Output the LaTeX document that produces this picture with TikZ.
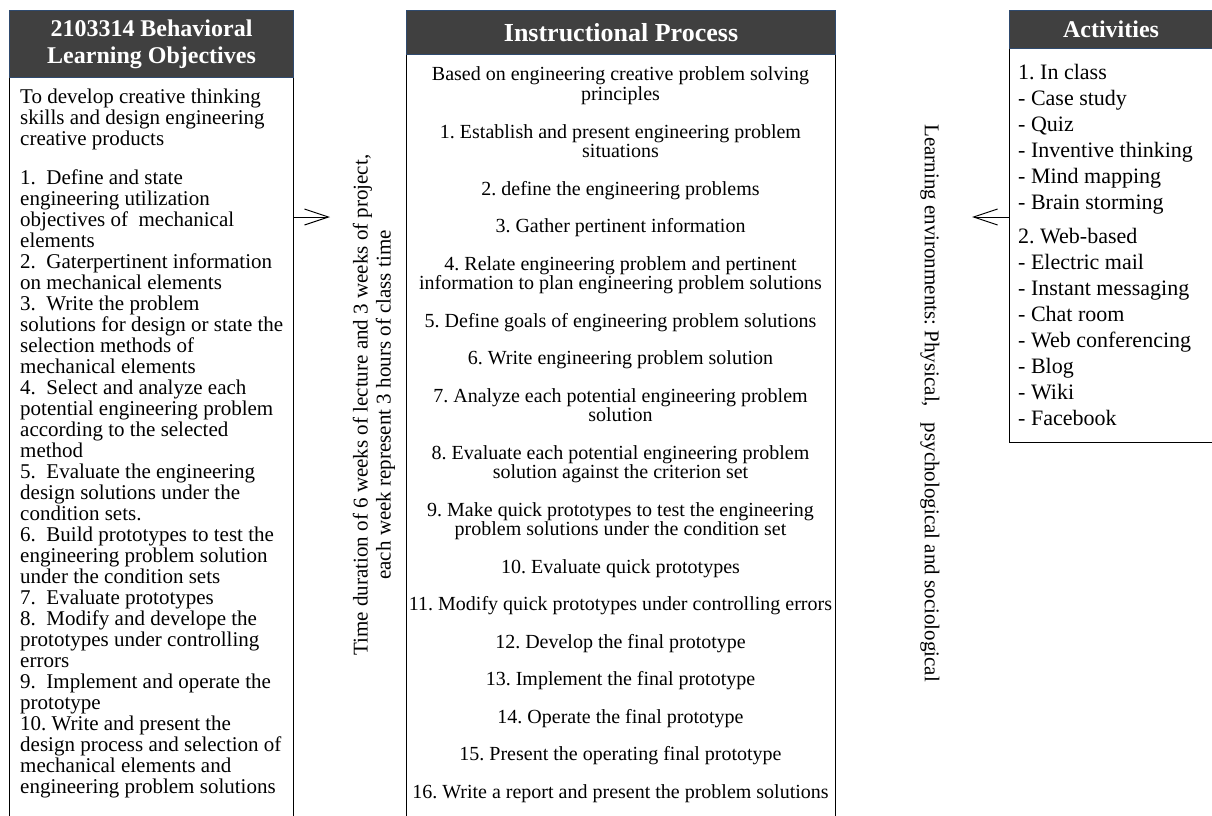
\documentclass[tikz,border=0pt]{standalone}
\usepackage{fontspec}
\setmainfont{Liberation Serif}
\usetikzlibrary{arrows.meta}
\definecolor{hdr}{HTML}{404040}
\definecolor{hdrline}{HTML}{2F4A6E}
\begin{document}
\frenchspacing
\begin{tikzpicture}[x=1pt,y=-1pt,
  hdrbox/.style={draw=hdrline, line width=1pt, fill=hdr, text=white, anchor=north west, inner sep=0pt, align=center},
  bodybox/.style={draw=black, line width=1.3pt, anchor=north west, inner sep=0pt},
  arr/.style={line width=1pt, -{Straight Barb[length=24pt,width=16pt,line width=1pt]}},
  ltxt/.style={anchor=base west, inner sep=0pt, font=\fontsize{21}{21}\selectfont},
  ctxt/.style={anchor=base, inner sep=0pt, font=\fontsize{20}{20}\selectfont},
  atxt/.style={anchor=base west, inner sep=0pt, font=\fontsize{22}{22}\selectfont},
  rtxt/.style={inner sep=0pt, align=center, font=\fontsize{21}{23}\selectfont},
]
\useasboundingbox (0,0) rectangle (1212,816);
\clip (0,0) rectangle (1212,816);
% boxes
\node[bodybox, minimum width=284pt, minimum height=760pt] (lbody) at (9,77) {};
\node[hdrbox, minimum width=284pt, minimum height=67pt, font=\fontsize{24}{27}\bfseries\selectfont] (lhead) at (9,10) {2103314 Behavioral\\Learning Objectives};
\node[bodybox, minimum width=429pt, minimum height=780pt] (cbody) at (406,54) {};
\node[hdrbox, minimum width=429pt, minimum height=44pt, font=\fontsize{26}{28}\bfseries\selectfont] (chead) at (406,10) {Instructional Process};
\node[bodybox, minimum width=220pt, minimum height=394pt] (abody) at (1009,48) {};
\node[hdrbox, minimum width=220pt, minimum height=38pt, font=\fontsize{24}{26}\bfseries\selectfont] (ahead) at (1009,10) {\hspace*{-17pt}Activities};
% left text
\foreach \yy/\txt [count=\i] in {
 103/{To develop creative thinking},
 124/{skills and design engineering},
 145/{creative products},
 184/{1.\ \ Define and state},
 205/{engineering utilization},
 226/{objectives of\ \ mechanical},
 247/{elements},
 268/{2.\ \ Gaterpertinent information},
 289/{on mechanical elements},
 310/{3.\ \ Write the problem},
 331/{solutions for design or state the},
 352/{selection methods of},
 373/{mechanical elements},
 394/{4.\ \ Select and analyze each},
 415/{potential engineering problem},
 436/{according to the selected},
 457/{method},
 478/{5.\ \ Evaluate the engineering},
 499/{design solutions under the},
 520/{condition sets.},
 541/{6.\ \ Build prototypes to test the},
 562/{engineering problem solution},
 583/{under the condition sets},
 604/{7.\ \ Evaluate prototypes},
 625/{8.\ \ Modify and develope the},
 646/{prototypes under controlling},
 667/{errors},
 688/{9.\ \ Implement and operate the},
 709/{prototype},
 730/{10. Write and present the},
 751/{design process and selection of},
 772/{mechanical elements and},
 793/{engineering problem solutions}}
 { \node[ltxt] (L\i) at (20,\yy) {\txt}; }
% centre text
\foreach \yy/\txt [count=\i] in {
 81/{Based on engineering creative problem solving},
 100.5/{principles},
 138/{1. Establish and present engineering problem},
 157.5/{situations},
 195/{2. define the engineering problems},
 232.5/{3. Gather pertinent information},
 270/{4. Relate engineering problem and pertinent},
 289.5/{information to plan engineering problem solutions},
 327/{5. Define goals of engineering problem solutions},
 364.5/{6. Write engineering problem solution},
 402/{7. Analyze each potential engineering problem},
 421.5/{solution},
 459/{8. Evaluate each potential engineering problem},
 478.5/{solution against the criterion set},
 516/{9. Make quick prototypes to test the engineering},
 535.5/{problem solutions under the condition set},
 573/{10. Evaluate quick prototypes},
 610.5/{11. Modify quick prototypes under controlling errors},
 648/{12. Develop the final prototype},
 685.5/{13. Implement the final prototype},
 723/{14. Operate the final prototype},
 760.5/{15. Present the operating final prototype},
 798/{16. Write a report and present the problem solutions}}
 { \node[ctxt] (C\i) at (620.5,\yy) {\txt}; }
% activities text
\foreach \yy/\txt [count=\i] in {
 79/{1. In class},
 105/{- Case study},
 131/{- Quiz},
 157/{- Inventive thinking},
 183/{- Mind mapping},
 209/{- Brain storming},
 243/{2. Web-based},
 269/{- Electric mail},
 295/{- Instant messaging},
 321/{- Chat room},
 347/{- Web conferencing},
 373/{- Blog},
 399/{- Wiki},
 425/{- Facebook}}
 { \node[atxt] (A\i) at (1018,\yy) {\txt}; }
% rotated texts
\node[rtxt, rotate=90] (tdur) at (374,405) {Time duration of 6 weeks of lecture and 3 weeks of project,\\each week represent 3 hours of class time};
\node[rtxt, rotate=-90] (lenv) at (930,403) {Learning environments: Physical,\ \ \ psychological and sociological};
% arrows
\coordinate (ltip) at (330,217);
\coordinate (rtip) at (972,217);
\draw[arr] (lbody.east |- ltip) -- (ltip);
\draw[arr] (abody.west |- rtip) -- (rtip);
\end{tikzpicture}
\end{document}
